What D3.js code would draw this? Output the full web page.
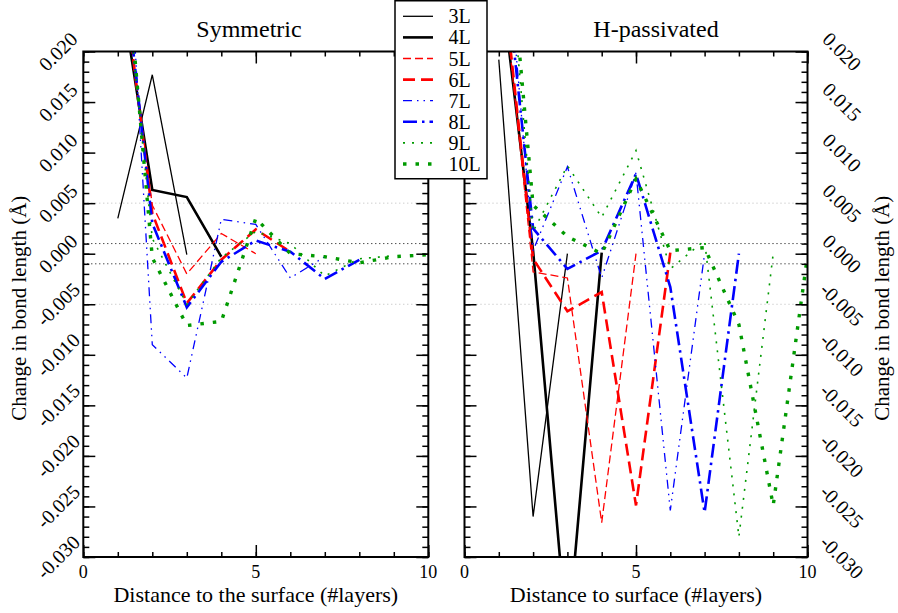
<!DOCTYPE html>
<html><head><meta charset="utf-8">
<script src="https://cdn.jsdelivr.net/npm/d3@7"></script>
<style>
body{margin:0;background:#fff}
svg{display:block}
text{font-family:"Liberation Serif","Times New Roman",serif;fill:#000}
</style>
</head><body>
<svg id="c" width="898" height="613"></svg>
<script>
// ---------- data ----------
const layerNames = ["3L","4L","5L","6L","7L","8L","9L","10L"];
const titles = ["Symmetric","H-passivated"];
const xTitles = ["Distance to the surface (#layers)","Distance to surface (#layers)"];
const yTitle = "Change in bond length (Å)";
const xMajorTicks = [0,5,10];
const xMinorTicks = [0,1,2,3,4,5,6,7,8,9,10];
const xTickLabels = ["0","5","10"];
const yMajorTicks = [0.02,0.015,0.01,0.005,0,-0.005,-0.01,-0.015,-0.02,-0.025,-0.03];
const yTickLabels = ["0.020","0.015","0.010","0.005","0.000","-0.005","-0.010","-0.015","-0.020","-0.025","-0.030"];
const yMinorTicks = d3.range(-30,21).map(d => d/1000);
const gridLight = [0.005,-0.005];
const gridDark = [0.001,-0.001];

// Symmetric panel (x = 1..n)
const sym3L  = [0.0035, 0.0177, -0.0001];
const sym4L  = [0.0280, 0.0063, 0.0056, -0.0003];
const sym5L  = [0.0310, 0.0048, -0.0020, 0.0020, 0.0000];
const sym6L  = [0.0316, 0.0040, -0.0049, -0.0006, 0.0024, 0.0002];
const sym7L  = [0.0500, -0.0090, -0.0123, 0.0034, 0.0029, -0.0024, -0.0003];
const sym8L  = [0.0339, 0.0030, -0.0053, -0.0008, 0.0013, 0.0002, -0.0025, -0.0006];
const sym9L  = [0.0350, 0.0015, -0.0050, -0.0004, 0.0022, 0.0010, -0.0022, -0.0005, -0.0002];
const sym10L = [0.0388, -0.0004, -0.0071, -0.0067, 0.0035, 0.0000, -0.0003, -0.0009, -0.0003, -0.0001];

// H-passivated panel (x = 1..n)
const hp3L  = [0.0192, -0.0260, 0.0000];
const hp4L  = [0.0286, 0.0003, -0.0385, 0.0001];
const hp5L  = [0.0307, -0.0018, -0.0024, -0.0266, 0.0000];
const hp6L  = [0.0310, -0.0005, -0.0057, -0.0038, -0.0249, 0.0001];
const hp7L  = [0.0397, 0.0003, 0.0086, -0.0024, 0.0080, -0.0254, 0.0000];
const hp8L  = [0.0343, 0.0025, -0.0015, 0.0003, 0.0079, -0.0033, -0.0256, 0.0000];
const hp9L  = [0.0418, 0.0022, 0.0087, 0.0036, 0.0102, -0.0015, 0.0013, -0.0280, 0.0000];
const hp10L = [0.0428, 0.0048, 0.0017, 0.0000, 0.0074, 0.0003, 0.0006, -0.0070, -0.0249, -0.0002];

const symSeries = [sym3L, sym4L, sym5L, sym6L, sym7L, sym8L, sym9L, sym10L];
const hpSeries  = [hp3L, hp4L, hp5L, hp6L, hp7L, hp8L, hp9L, hp10L];

// ---------- styles ----------
const colors = ["#000","#000","#ff0000","#ff0000","#0000ff","#0000ff","#009a00","#009a00"];
const widths = [1.3, 2.6, 1.3, 2.6, 1.3, 2.6, 1.6, 3.4];
const dashes = [null, null, "8,4", "12,6", "9,5,1.5,5,1.5,5", "14,5,2.5,5", "2,7", "3.5,9"];

// ---------- layout ----------
const svg = d3.select("#c");
const y = d3.scaleLinear().domain([-0.03, 0.02]).range([557, 51.5]);
const panels = [
  {x: d3.scaleLinear().domain([0,10]).range([83.3, 428.3]), series: symSeries, title: titles[0], xt: xTitles[0], side: "left"},
  {x: d3.scaleLinear().domain([0,10]).range([464.5, 807.5]), series: hpSeries, title: titles[1], xt: xTitles[1], side: "right"}
];
const defs = svg.append("defs");

panels.forEach((p, pi) => {
  const [x0, x1] = p.x.range();
  const [yb, yt] = y.range();
  const g = svg.append("g");
  defs.append("clipPath").attr("id", "clip" + pi)
    .append("rect").attr("x", x0).attr("y", yt).attr("width", x1 - x0).attr("height", yb - yt);

  // grid / reference lines
  g.selectAll(".gl").data(gridLight).join("line")
    .attr("x1", x0).attr("x2", x1).attr("y1", d => y(d)).attr("y2", d => y(d))
    .attr("stroke", "#b8b8b8").attr("stroke-width", 1).attr("stroke-dasharray", "1,3");
  g.selectAll(".gd").data(gridDark).join("line")
    .attr("x1", x0).attr("x2", x1).attr("y1", d => y(d)).attr("y2", d => y(d))
    .attr("stroke", "#000").attr("stroke-width", 1).attr("stroke-dasharray", "1,3");

  // series
  const line = d3.line().x((d, i) => p.x(i + 1)).y(d => y(d));
  const sg = g.append("g").attr("clip-path", "url(#clip" + pi + ")");
  p.series.forEach((vals, si) => {
    sg.append("path").attr("d", line(vals)).attr("fill", "none")
      .attr("stroke", colors[si]).attr("stroke-width", widths[si])
      .attr("stroke-dasharray", dashes[si]).attr("stroke-linejoin", "miter");
  });

  // ticks (inward, on all four sides)
  const tk = (axis, tr) => {
    const a = g.append("g").attr("transform", tr).call(axis);
    a.select(".domain").remove();
    a.selectAll("text").remove();
    a.selectAll("line").attr("stroke", "#000").attr("stroke-width", 1.5);
  };
  tk(d3.axisBottom(p.x).tickValues(xMinorTicks).tickSize(-5), `translate(0,${yb})`);
  tk(d3.axisBottom(p.x).tickValues(xMajorTicks).tickSize(-12), `translate(0,${yb})`);
  tk(d3.axisTop(p.x).tickValues(xMinorTicks).tickSize(-5), `translate(0,${yt})`);
  tk(d3.axisTop(p.x).tickValues(xMajorTicks).tickSize(-12), `translate(0,${yt})`);
  tk(d3.axisLeft(y).tickValues(yMinorTicks).tickSize(-6), `translate(${x0},0)`);
  tk(d3.axisLeft(y).tickValues(yMajorTicks).tickSize(-12), `translate(${x0},0)`);
  tk(d3.axisRight(y).tickValues(yMinorTicks).tickSize(-6), `translate(${x1},0)`);
  tk(d3.axisRight(y).tickValues(yMajorTicks).tickSize(-12), `translate(${x1},0)`);

  // frame
  g.append("rect").attr("x", x0).attr("y", yt).attr("width", x1 - x0).attr("height", yb - yt)
    .attr("fill", "none").attr("stroke", "#000").attr("stroke-width", 2);

  // x tick labels
  g.selectAll(".xl").data(xMajorTicks).join("text")
    .attr("x", d => p.x(d)).attr("y", 578).attr("text-anchor", "middle")
    .attr("font-size", 18).text((d, i) => xTickLabels[i]);

  // x title
  g.append("text").attr("x", (x0 + x1) / 2).attr("y", 601.5).attr("text-anchor", "middle")
    .attr("font-size", 22).text(p.xt);

  // title
  g.append("text").attr("x", pi === 0 ? 249 : 656).attr("y", 37).attr("text-anchor", "middle")
    .attr("font-size", 24).text(p.title);

  // y tick labels (rotated)
  const lx = p.side === "left" ? 58 : 842;
  const ang = p.side === "left" ? -45 : 45;
  g.selectAll(".yl").data(yMajorTicks).join("text")
    .attr("transform", d => `translate(${lx},${y(d)}) rotate(${ang})`)
    .attr("text-anchor", "middle").attr("dominant-baseline", "central")
    .attr("font-size", 20).text((d, i) => yTickLabels[i]);

  // y title
  const tx = p.side === "left" ? 26 : 889;
  g.append("text").attr("transform", `translate(${tx},${(yb + yt) / 2 + 4}) rotate(-90)`)
    .attr("text-anchor", "middle").attr("font-size", 21).text(yTitle);
});

// ---------- legend ----------
const lg = svg.append("g");
lg.append("rect").attr("x", 395).attr("y", 0.75).attr("width", 92).attr("height", 178)
  .attr("fill", "#fff").attr("stroke", "#000").attr("stroke-width", 1.5);
layerNames.forEach((name, i) => {
  const by = 23.3 + i * 21.1;
  lg.append("line").attr("x1", 403).attr("x2", 433).attr("y1", by - 7).attr("y2", by - 7)
    .attr("stroke", colors[i]).attr("stroke-width", widths[i]).attr("stroke-dasharray", dashes[i]);
  lg.append("text").attr("x", 448.5).attr("y", by).attr("font-size", 20).text(name);
});
</script>
</body></html>
